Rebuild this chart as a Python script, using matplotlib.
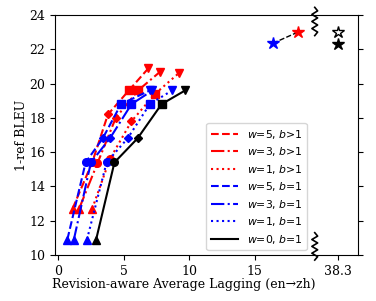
import numpy as np
import matplotlib
matplotlib.use("Agg")
import matplotlib.pyplot as plt

plt.rcParams['font.family'] = 'serif'
plt.rcParams['font.serif'] = ['DejaVu Serif']

# points: triangle-up, circle, diamond, square, triangle-down
markers = ['^', 'o', 'D', 's', 'v']

labels = ['$w$=5, $b$>1', '$w$=3, $b$>1', '$w$=1, $b$>1',
          '$w$=5, $b$=1', '$w$=3, $b$=1', '$w$=1, $b$=1', '$w$=0, $b$=1']
colors = ['red', 'red', 'red', 'blue', 'blue', 'blue', 'black']
styles = ['--', '-.', ':', '--', '-.', ':', '-']

lag_r5 = [1.1, 2.6, 3.8, 5.4, 6.9]
bleu_r5 = [12.7, 15.4, 18.2, 19.6, 20.9]
lag_r3 = [1.6, 3.0, 4.4, 6.1, 7.8]
bleu_r3 = [12.7, 15.35, 18.0, 19.6, 20.7]
lag_r1 = [2.6, 3.95, 5.6, 7.4, 9.2]
bleu_r1 = [12.7, 15.6, 17.8, 19.4, 20.6]
lag_b5 = [0.7, 2.1, 3.4, 4.8, 7.0]
bleu_b5 = [10.9, 15.4, 16.8, 18.8, 19.6]
lag_b3 = [1.2, 2.5, 3.95, 5.6, 7.2]
bleu_b3 = [10.9, 15.4, 16.8, 18.8, 19.6]
lag_b1 = [2.2, 3.7, 5.3, 7.0, 8.7]
bleu_b1 = [10.9, 15.4, 16.8, 18.8, 19.6]
lag_w0 = [2.9, 4.3, 6.06, 7.9, 9.7]
bleu_w0 = [10.9, 15.4, 16.8, 18.8, 19.6]

all_lag = [lag_r5, lag_r3, lag_r1, lag_b5, lag_b3, lag_b1, lag_w0]
all_bleu = [bleu_r5, bleu_r3, bleu_r1, bleu_b5, bleu_b3, bleu_b1, bleu_w0]

# stars
star_lag = [16.4, 18.3]
star_bleu = [22.35, 23.0]
star_colors = ['blue', 'red']
break_pos = 21.37  # where 38.3 is drawn
off_bleu_open = 23.0
off_bleu_full = 22.3

fig = plt.figure(figsize=(3.76, 3.01), dpi=100)
ax = fig.add_axes([0.146, 0.153, 0.806, 0.797])

for xs, ys, c, ls, lab in zip(all_lag, all_bleu, colors, styles, labels):
    ax.plot(xs, ys, color=c, linestyle=ls, lw=1.5, label=lab)
    for x, y, m in zip(xs, ys, markers):
        ax.plot(x, y, marker=m, color=c, ms=5.5 if m != 'D' else 4.5)

ax.plot(star_lag, star_bleu, color='black', ls='--', lw=1)
for x, y, c in zip(star_lag, star_bleu, star_colors):
    ax.plot(x, y, marker='*', color=c, ms=9)
ax.plot(break_pos, off_bleu_open, marker='*', mfc='white', mec='black', ms=9)
ax.plot(break_pos, off_bleu_full, marker='*', color='black', ms=9)

# axis break marks
def zigzag(y0, y1):
    ys = np.linspace(y0, y1, 9)
    xs = 19.6 + 0.22 * np.array([0, 1, -1, 1, -1, 1, -1, 1, 0])
    ax.plot(xs, ys, color='black', lw=1.2, clip_on=False, zorder=5)

zigzag(24.45, 22.8)
zigzag(11.3, 9.7)

ax.set_xlim(-0.25, 22.9)
ax.set_ylim(10, 24)
ax.set_xticks([0, 5, 10, 15, break_pos])
ax.set_xticklabels(['0', '5', '10', '15', '38.3'])
ax.set_yticks(range(10, 25, 2))
ax.tick_params(labelsize=9, right=True)
ax.set_xlabel('Revision-aware Average Lagging (en→zh)', fontsize=9)
ax.xaxis.set_label_coords(0.425, -0.095)
ax.set_ylabel('1-ref BLEU', fontsize=9, labelpad=1)

ax.legend(loc='lower left', bbox_to_anchor=(0.5, 0.02), borderaxespad=0,
          prop={'family': 'DejaVu Sans', 'size': 7.8}, handlelength=2.5,
          labelspacing=0.42)

fig.savefig('out.png', dpi=100)
